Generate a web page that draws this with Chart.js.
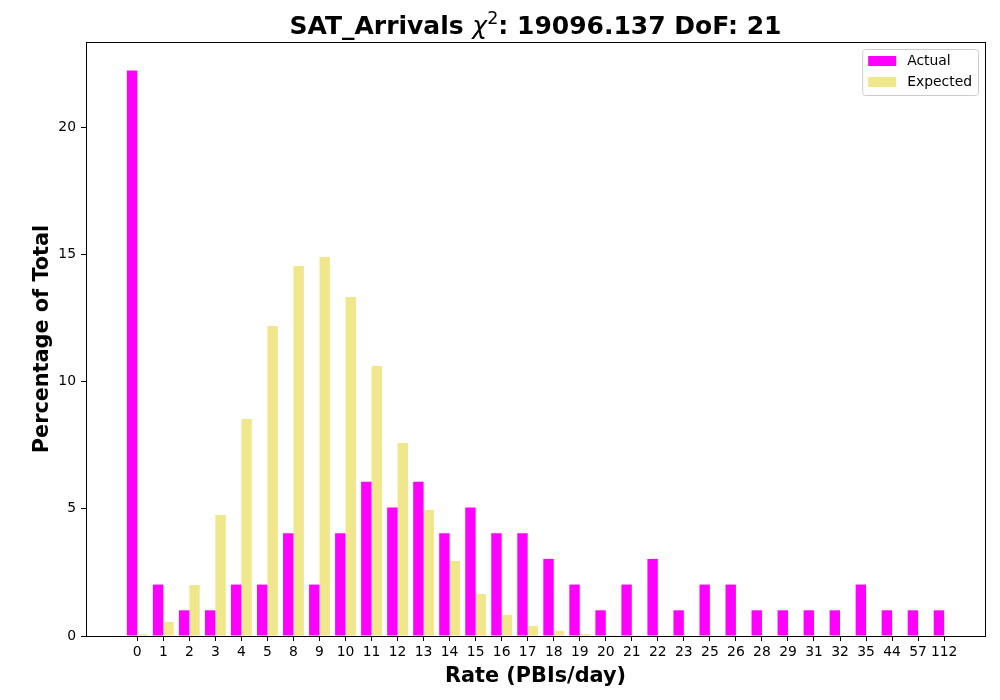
<!DOCTYPE html>
<html>
<head>
<meta charset="utf-8">
<title>SAT_Arrivals</title>
<script src="https://cdn.jsdelivr.net/npm/chart.js@4"></script>
<style>
  html, body { margin: 0; padding: 0; background: #fff; }
  #chart { display: block; }
</style>
</head>
<body>
<canvas id="chart" width="1000" height="700"></canvas>
<script>
// rate buckets (PBIs/day) that show up in the data
const categories = ["0", "1", "2", "3", "4", "5", "8", "9", "10", "11", "12", "13", "14", "15", "16",
  "17", "18", "19", "20", "21", "22", "23", "25", "26", "28", "29", "31", "32", "35", "44", "57", "112"];

// percentage of total
const actualPct = [22.22, 2.02, 1.01, 1.01, 2.02, 2.02, 4.04, 2.02, 4.04, 6.06, 5.05, 6.06, 4.04, 5.05, 4.04,
  4.04, 3.03, 2.02, 1.01, 2.02, 3.03, 1.01, 2.02, 2.02, 1.01, 1.01, 1.01, 1.01, 2.02, 1.01, 1.01, 1.01];
const expectedPct = [0.07, 0.55, 2.0, 4.75, 8.53, 12.18, 14.54, 14.89, 13.32, 10.61, 7.58, 4.95, 2.95, 1.65, 0.83,
  0.39, 0.2, 0.08, 0.03, 0.03, 0.01, 0, 0, 0, 0, 0, 0, 0, 0, 0, 0];

const yTicks = [0, 5, 10, 15, 20];

const FONT = "'DejaVu Sans', sans-serif";

// title has a math part (italic chi, superscript 2), so draw it by hand
const titlePlugin = {
  id: "mplTitle",
  afterDraw(chart) {
    const ctx = chart.ctx;
    const area = chart.chartArea;
    const parts = [
      { text: "SAT_Arrivals ", font: "bold 25px " + FONT, dy: 0 },
      { text: "\u03C7", font: "italic 25px " + FONT, dy: 0 },
      { text: "2", font: "17.5px " + FONT, dy: -10 },
      { text: ": 19096.137 DoF: 21", font: "bold 25px " + FONT, dy: 0 },
    ];
    ctx.save();
    ctx.fillStyle = "#000";
    ctx.textBaseline = "alphabetic";
    let total = 0;
    parts.forEach((p) => {
      ctx.font = p.font;
      p.w = ctx.measureText(p.text).width;
      total += p.w;
    });
    let x = (area.left + area.right) / 2 - total / 2;
    const y = area.top - 8;
    parts.forEach((p) => {
      ctx.font = p.font;
      ctx.fillText(p.text, x, y + p.dy);
      x += p.w;
    });
    ctx.restore();
  },
};

// frame round the axes + matplotlib style legend box
const framePlugin = {
  id: "mplFrame",
  afterDatasetsDraw(chart) {
    const ctx = chart.ctx;
    const a = chart.chartArea;
    ctx.save();
    ctx.strokeStyle = "#000";
    ctx.lineWidth = 1;
    ctx.strokeRect(Math.round(a.left) + 0.5, Math.round(a.top) + 0.5,
      Math.round(a.right - a.left), Math.round(a.bottom - a.top));

    // legend
    const items = chart.data.datasets.map((d) => ({ label: d.label, color: d.backgroundColor }));
    ctx.font = "13.9px " + FONT;
    const textW = Math.max(...items.map((it) => ctx.measureText(it.label).width));
    const boxW = 6 + 28 + 11 + textW + 6;
    const boxH = 46;
    const bx = a.right - 7 - boxW;
    const by = a.top + 7;
    ctx.beginPath();
    ctx.roundRect(bx + 0.5, by + 0.5, boxW, boxH, 3);
    ctx.fillStyle = "rgba(255,255,255,0.8)";
    ctx.fill();
    ctx.strokeStyle = "#cccccc";
    ctx.stroke();
    items.forEach((it, i) => {
      const cy = by + 12 + i * 21;
      ctx.fillStyle = it.color;
      ctx.fillRect(bx + 6, cy - 5, 28, 10);
      ctx.fillStyle = "#000";
      ctx.textBaseline = "middle";
      ctx.fillText(it.label, bx + 6 + 28 + 11, cy);
    });
    ctx.restore();
  },
};

const ctx = document.getElementById("chart").getContext("2d");
new Chart(ctx, {
  type: "bar",
  data: {
    datasets: [
      {
        label: "Actual",
        data: actualPct.map((v, i) => ({ x: i, y: v })),
        backgroundColor: "#ff00ff",
      },
      {
        label: "Expected",
        data: expectedPct.map((v, i) => ({ x: i, y: v })),
        backgroundColor: "#f0e68c",
      },
    ],
  },
  options: {
    responsive: false,
    animation: false,
    devicePixelRatio: 1,
    layout: { padding: { top: 42, right: 15, left: 0, bottom: 0 } },
    datasets: {
      bar: { barPercentage: 1.0, categoryPercentage: 0.8 },
    },
    plugins: {
      legend: { display: false },
      tooltip: { enabled: false },
    },
    scales: {
      x: {
        type: "linear",
        offset: false,
        min: -1.97,
        max: 32.57,
        afterBuildTicks: (scale) => {
          scale.ticks = categories.map((_, i) => ({ value: i }));
        },
        afterFit: (scale) => {
          scale.height = 64;
        },
        ticks: {
          autoSkip: false,
          maxRotation: 0,
          padding: 3,
          color: "#000",
          font: { family: FONT, size: 13.9 },
          callback: (v) => categories[v],
        },
        grid: {
          offset: false,
          drawOnChartArea: false,
          drawTicks: true,
          tickLength: 5,
          tickColor: "#000",
        },
        border: { display: true, color: "#000" },
        title: {
          display: true,
          text: "Rate (PBIs/day)",
          color: "#000",
          font: { family: FONT, size: 20.8, weight: "bold" },
          padding: { top: 0, bottom: 10.5 },
        },
      },
      y: {
        min: 0,
        max: 23.34,
        afterBuildTicks: (scale) => {
          scale.ticks = yTicks.map((v) => ({ value: v }));
        },
        afterFit: (scale) => {
          scale.width = 86;
        },
        ticks: {
          padding: 5,
          color: "#000",
          font: { family: FONT, size: 13.9 },
        },
        grid: {
          drawOnChartArea: false,
          drawTicks: true,
          tickLength: 5,
          tickColor: "#000",
        },
        border: { display: true, color: "#000" },
        title: {
          display: true,
          text: "Percentage of Total",
          color: "#000",
          font: { family: FONT, size: 20.8, weight: "bold" },
          padding: { top: 30.5, bottom: 0 },
        },
      },
    },
  },
  plugins: [titlePlugin, framePlugin],
});
</script>
</body>
</html>
